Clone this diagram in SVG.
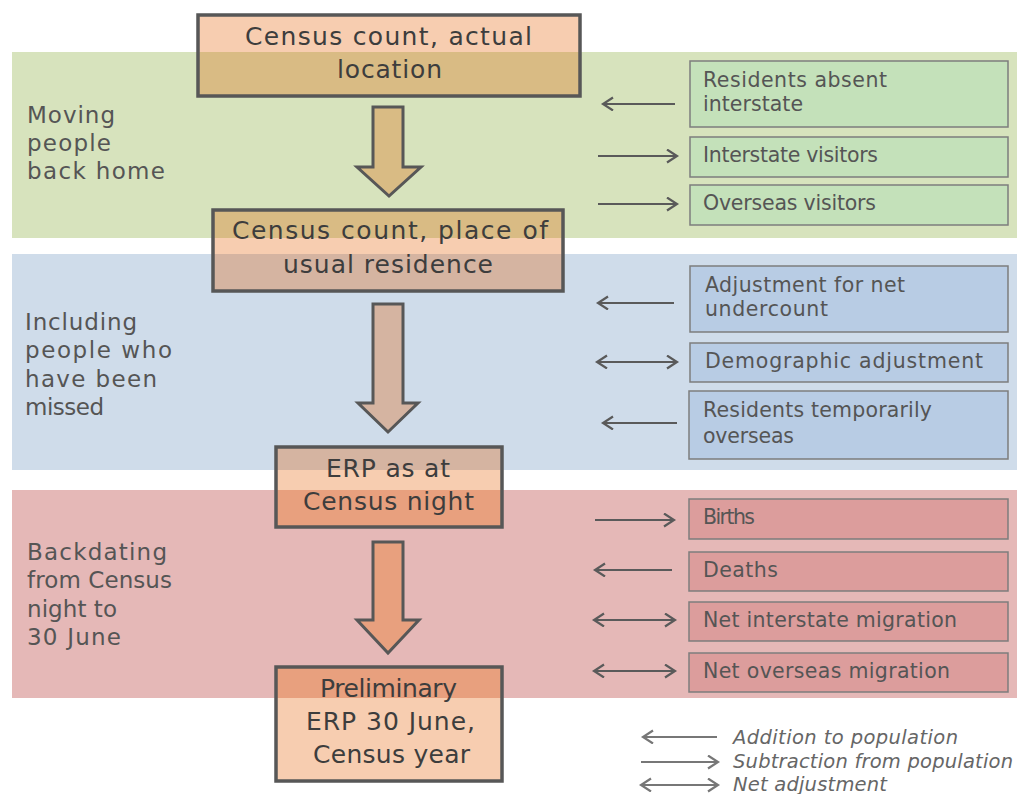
<svg xmlns="http://www.w3.org/2000/svg" width="1019" height="794" viewBox="0 0 1019 794">
<style>
.main{font-family:"DejaVu Sans","Liberation Sans",sans-serif;font-size:25px;fill:#3d3d3d}
.side{font-family:"DejaVu Sans","Liberation Sans",sans-serif;font-size:20.5px;fill:#555}
.lab{font-family:"DejaVu Sans","Liberation Sans",sans-serif;font-size:23px;fill:#555}
.leg{font-family:"DejaVu Sans","Liberation Sans",sans-serif;font-size:19.5px;font-style:italic;fill:#666}
.box{fill:none;stroke:#575757;stroke-width:3.5}
.blk{stroke:#575757;stroke-width:3;stroke-linejoin:miter}
.sg{fill:#c4e1ba;stroke:#7d7d7d;stroke-width:1.5}
.sb{fill:#b8cce4;stroke:#7d7d7d;stroke-width:1.5}
.sp{fill:#dc9d9c;stroke:#7d7d7d;stroke-width:1.5}
.ar{stroke:#5a5a5a;stroke-width:2;fill:none}
.la{stroke:#777;stroke-width:2;fill:none}
</style>
<defs>
<marker id="ah" markerUnits="userSpaceOnUse" markerWidth="16" markerHeight="16" refX="11" refY="7" orient="auto-start-reverse" viewBox="0 0 16 16">
<path d="M1,0.5 L11,7 L1,13.5" fill="none" stroke="#5a5a5a" stroke-width="2.2"/>
</marker>
<marker id="lh" markerUnits="userSpaceOnUse" markerWidth="16" markerHeight="16" refX="11" refY="7" orient="auto-start-reverse" viewBox="0 0 16 16">
<path d="M1,0.5 L11,7 L1,13.5" fill="none" stroke="#777" stroke-width="2.2"/>
</marker>
</defs>
<rect width="1019" height="794" fill="#fff"/>
<!-- bands -->
<rect x="12" y="52" width="1005" height="186" fill="#d7e3bd"/>
<rect x="12" y="254" width="1005" height="216" fill="#cfdcea"/>
<rect x="12" y="490" width="1005" height="208" fill="#e5b8b7"/>
<text class="lab" x="27" y="123" textLength="88">Moving</text>
<text class="lab" x="27" y="151" textLength="84">people</text>
<text class="lab" x="27" y="179" textLength="138">back home</text>
<text class="lab" x="25" y="330" textLength="112">Including</text>
<text class="lab" x="25" y="358" textLength="147">people who</text>
<text class="lab" x="25" y="387" textLength="132">have been</text>
<text class="lab" x="25" y="415" textLength="79">missed</text>
<text class="lab" x="27" y="560" textLength="140">Backdating</text>
<text class="lab" x="27" y="588" textLength="145">from Census</text>
<text class="lab" x="27" y="617" textLength="90">night to</text>
<text class="lab" x="27" y="645" textLength="94">30 June</text>
<!-- main nodes -->
<g id="n-census-actual">
<rect x="198" y="15" width="382" height="37" fill="#f7cdb0"/>
<rect x="198" y="52" width="382" height="44" fill="#d9bb84"/>
<rect class="box" x="198" y="15" width="382" height="81"/>
<text class="main" x="245" y="45" textLength="287">Census count, actual</text>
<text class="main" x="337" y="78" textLength="105">location</text>
</g>
<g id="n-census-usual">
<rect x="213" y="210" width="350" height="28" fill="#d9bb84"/>
<rect x="213" y="238" width="350" height="16" fill="#f7cdb0"/>
<rect x="213" y="254" width="350" height="37" fill="#d5b4a1"/>
<rect class="box" x="213" y="210" width="350" height="81"/>
<text class="main" x="232" y="239" textLength="316">Census count, place of</text>
<text class="main" x="283" y="273" textLength="210">usual residence</text>
</g>
<g id="n-erp-census">
<rect x="276" y="447" width="226" height="23" fill="#d5b4a1"/>
<rect x="276" y="470" width="226" height="20" fill="#f7cdb0"/>
<rect x="276" y="490" width="226" height="37" fill="#e8a07e"/>
<rect class="box" x="276" y="447" width="226" height="80"/>
<text class="main" x="326" y="477" textLength="124">ERP as at</text>
<text class="main" x="303" y="510" textLength="171">Census night</text>
</g>
<g id="n-prelim">
<rect x="276" y="667" width="226" height="31" fill="#e8a07e"/>
<rect x="276" y="698" width="226" height="83" fill="#f7cdb0"/>
<rect class="box" x="276" y="667" width="226" height="114"/>
<text class="main" x="320" y="697" textLength="137">Preliminary</text>
<text class="main" x="306" y="730" textLength="169">ERP 30 June,</text>
<text class="main" x="313" y="763" textLength="157">Census year</text>
</g>
<!-- side nodes -->
<g id="s-res-absent"><rect class="sg" x="690" y="61" width="318" height="66"/>
<text class="side" x="703" y="87" textLength="184">Residents absent</text>
<text class="side" x="703" y="111" textLength="100">interstate</text></g>
<g id="s-inter-vis"><rect class="sg" x="690" y="137" width="318" height="40"/>
<text class="side" x="703" y="162" textLength="175">Interstate visitors</text></g>
<g id="s-over-vis"><rect class="sg" x="690" y="185" width="318" height="40"/>
<text class="side" x="703" y="210" textLength="173">Overseas visitors</text></g>
<g id="s-undercount"><rect class="sb" x="690" y="266" width="318" height="66"/>
<text class="side" x="705" y="292" textLength="200">Adjustment for net</text>
<text class="side" x="705" y="316" textLength="123">undercount</text></g>
<g id="s-demog"><rect class="sb" x="690" y="343" width="318" height="39"/>
<text class="side" x="705" y="368" textLength="278">Demographic adjustment</text></g>
<g id="s-res-temp"><rect class="sb" x="689" y="391" width="319" height="68"/>
<text class="side" x="703" y="417" textLength="229">Residents temporarily</text>
<text class="side" x="703" y="443" textLength="91">overseas</text></g>
<g id="s-births"><rect class="sp" x="689" y="499" width="319" height="40"/>
<text class="side" x="703" y="524" textLength="52">Births</text></g>
<g id="s-deaths"><rect class="sp" x="689" y="552" width="319" height="39"/>
<text class="side" x="703" y="577" textLength="75">Deaths</text></g>
<g id="s-net-inter"><rect class="sp" x="689" y="602" width="319" height="39"/>
<text class="side" x="703" y="627" textLength="254">Net interstate migration</text></g>
<g id="s-net-over"><rect class="sp" x="689" y="653" width="319" height="39"/>
<text class="side" x="703" y="678" textLength="247">Net overseas migration</text></g>
<!-- connectors -->
<g id="connectors">
<path class="blk" fill="#d9bb84" d="M373,107 L403,107 L403,167 L421,167 L389,196 L357,167 L373,167 Z"/>
<path class="blk" fill="#d5b4a1" d="M373,304 L403,304 L403,403 L418,403 L388,432 L358,403 L373,403 Z"/>
<path class="blk" fill="#e8a07e" d="M373,542 L403,542 L403,620 L419,620 L388,653 L357,620 L373,620 Z"/>
<line class="ar" x1="675" y1="104" x2="603" y2="104" marker-end="url(#ah)"/>
<line class="ar" x1="598" y1="156" x2="677" y2="156" marker-end="url(#ah)"/>
<line class="ar" x1="598" y1="204" x2="677" y2="204" marker-end="url(#ah)"/>
<line class="ar" x1="674" y1="303" x2="598" y2="303" marker-end="url(#ah)"/>
<line class="ar" x1="597" y1="362" x2="677" y2="362" marker-start="url(#ah)" marker-end="url(#ah)"/>
<line class="ar" x1="677" y1="423" x2="603" y2="423" marker-end="url(#ah)"/>
<line class="ar" x1="595" y1="520" x2="674" y2="520" marker-end="url(#ah)"/>
<line class="ar" x1="672" y1="570" x2="595" y2="570" marker-end="url(#ah)"/>
<line class="ar" x1="594" y1="620" x2="675" y2="620" marker-start="url(#ah)" marker-end="url(#ah)"/>
<line class="ar" x1="594" y1="671" x2="675" y2="671" marker-start="url(#ah)" marker-end="url(#ah)"/>
</g>
<!-- legend -->
<g id="legend">
<line class="la" x1="717" y1="737" x2="643" y2="737" marker-end="url(#lh)"/>
<line class="la" x1="641" y1="762" x2="718" y2="762" marker-end="url(#lh)"/>
<line class="la" x1="641" y1="785" x2="718" y2="785" marker-start="url(#lh)" marker-end="url(#lh)"/>
<text class="leg" x="733" y="744" textLength="225">Addition to population</text>
<text class="leg" x="733" y="768" textLength="280">Subtraction from population</text>
<text class="leg" x="733" y="791" textLength="154">Net adjustment</text>
</g>
</svg>
